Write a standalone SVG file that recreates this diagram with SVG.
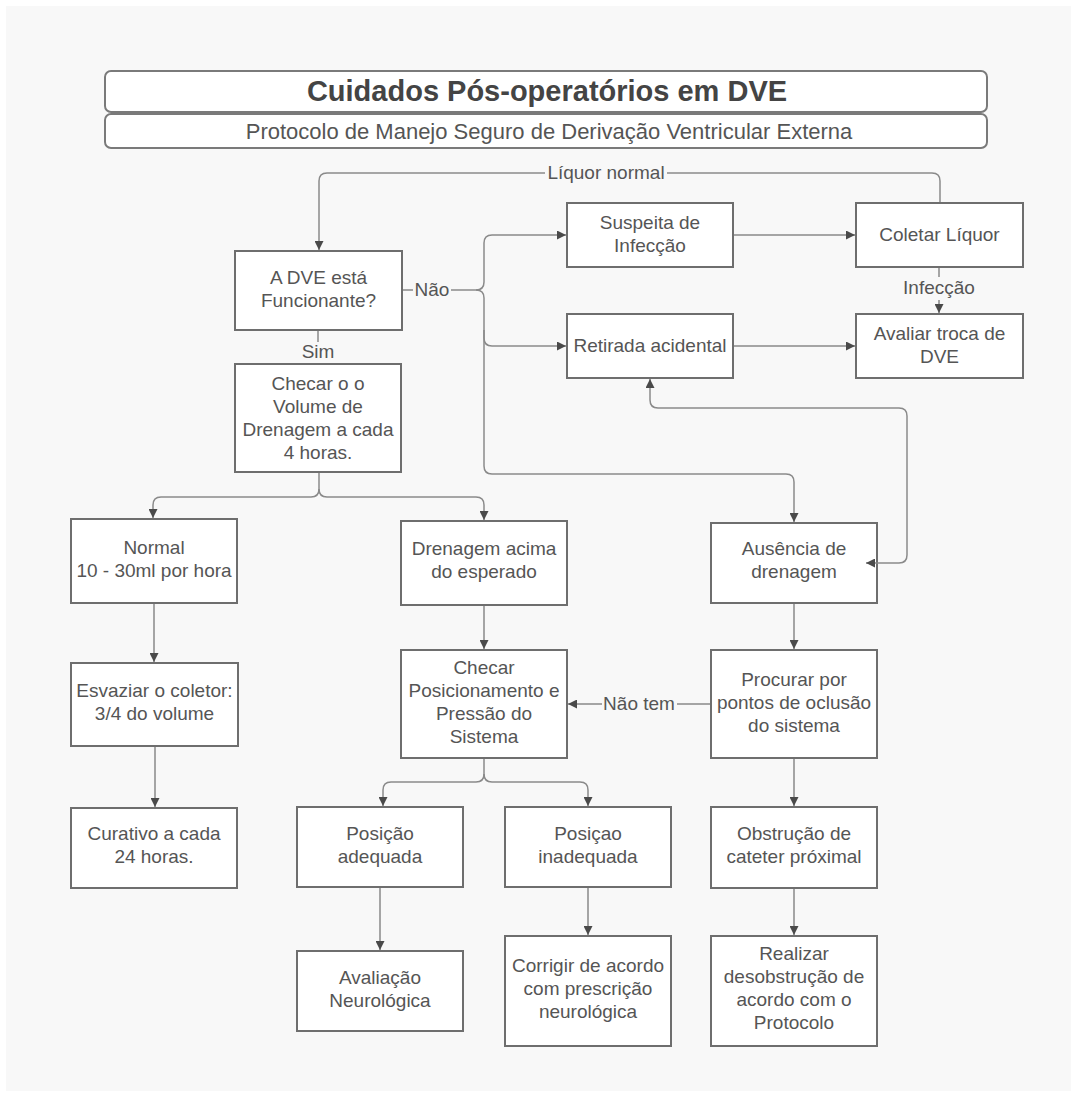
<svg xmlns="http://www.w3.org/2000/svg" width="1077" height="1097" viewBox="0 0 1077 1097">
<defs>
<style>
.bx{fill:#ffffff;stroke:#6e6e6e;stroke-width:2}
.hd{fill:#ffffff;stroke:#7a7a7a;stroke-width:2}
.t{font-family:"Liberation Sans",Arial,sans-serif;font-size:19px;fill:#555555;text-anchor:middle}
.ttl{font-family:"Liberation Sans",Arial,sans-serif;font-size:29px;font-weight:bold;fill:#444444;text-anchor:middle}
.sub{font-family:"Liberation Sans",Arial,sans-serif;font-size:22px;fill:#555555;text-anchor:middle}
.c{fill:none;stroke:#8a8a8a;stroke-width:1.5}
.a{marker-end:url(#ah)}
</style>
<marker id="ah" viewBox="0 0 10 10" refX="10" refY="5" markerWidth="9" markerHeight="9" markerUnits="userSpaceOnUse" orient="auto-start-reverse">
<path d="M0,0 L10,5 L0,10 z" fill="#4a4a4a"/>
</marker>
</defs>
<rect x="0" y="0" width="1077" height="1097" fill="#ffffff"/>
<rect x="6" y="6" width="1065" height="1085" fill="#f8f8f8"/>

<g id="header">
<rect class="hd" x="105" y="71" width="882" height="41" rx="6"/>
<text class="ttl" x="547" y="101">Cuidados Pós-operatórios em DVE</text>
<rect class="hd" x="105" y="114" width="882" height="34" rx="6"/>
<text class="sub" x="549" y="139">Protocolo de Manejo Seguro de Derivação Ventricular Externa</text>
</g>

<g id="n-funcionante">
<rect class="bx" x="235" y="251" width="167" height="79"/>
<text class="t" x="318.5" y="284">A DVE está<tspan x="318.5" dy="23">Funcionante?</tspan></text>
</g>
<g id="n-checar-volume">
<rect class="bx" x="235" y="364" width="166" height="108"/>
<text class="t" x="318" y="390">Checar o o<tspan x="318" dy="23">Volume de</tspan><tspan x="318" dy="23">Drenagem a cada</tspan><tspan x="318" dy="23">4 horas.</tspan></text>
</g>
<g id="n-suspeita">
<rect class="bx" x="567" y="203" width="166" height="64"/>
<text class="t" x="650" y="229">Suspeita de<tspan x="650" dy="23">Infecção</tspan></text>
</g>
<g id="n-coletar">
<rect class="bx" x="856" y="203" width="167" height="64"/>
<text class="t" x="939.5" y="241">Coletar Líquor</text>
</g>
<g id="n-retirada">
<rect class="bx" x="567" y="314" width="166" height="64"/>
<text class="t" x="650" y="352">Retirada acidental</text>
</g>
<g id="n-avaliar-troca">
<rect class="bx" x="856" y="314" width="167" height="64"/>
<text class="t" x="939.5" y="340">Avaliar troca de<tspan x="939.5" dy="23">DVE</tspan></text>
</g>
<g id="n-normal">
<rect class="bx" x="71" y="519" width="166" height="84"/>
<text class="t" x="154" y="554">Normal<tspan x="154" dy="23">10 - 30ml por hora</tspan></text>
</g>
<g id="n-drenagem-acima">
<rect class="bx" x="401" y="521" width="166" height="84"/>
<text class="t" x="484" y="555">Drenagem acima<tspan x="484" dy="23">do esperado</tspan></text>
</g>
<g id="n-ausencia">
<rect class="bx" x="711" y="523" width="166" height="80"/>
<text class="t" x="794" y="555">Ausência de<tspan x="794" dy="23">drenagem</tspan></text>
</g>
<g id="n-esvaziar">
<rect class="bx" x="71" y="663" width="167" height="83"/>
<text class="t" x="154.5" y="697">Esvaziar o coletor:<tspan x="154.5" dy="23">3/4 do volume</tspan></text>
</g>
<g id="n-checar-pos">
<rect class="bx" x="401" y="650" width="166" height="108"/>
<text class="t" x="484" y="674">Checar<tspan x="484" dy="23">Posicionamento e</tspan><tspan x="484" dy="23">Pressão do</tspan><tspan x="484" dy="23">Sistema</tspan></text>
</g>
<g id="n-procurar">
<rect class="bx" x="711" y="650" width="166" height="108"/>
<text class="t" x="794" y="686">Procurar por<tspan x="794" dy="23">pontos de oclusão</tspan><tspan x="794" dy="23">do sistema</tspan></text>
</g>
<g id="n-curativo">
<rect class="bx" x="71" y="808" width="166" height="80"/>
<text class="t" x="154" y="840">Curativo a cada<tspan x="154" dy="23">24 horas.</tspan></text>
</g>
<g id="n-pos-adequada">
<rect class="bx" x="297" y="807" width="166" height="80"/>
<text class="t" x="380" y="840">Posição<tspan x="380" dy="23">adequada</tspan></text>
</g>
<g id="n-pos-inadequada">
<rect class="bx" x="505" y="807" width="166" height="80"/>
<text class="t" x="588" y="840">Posiçao<tspan x="588" dy="23">inadequada</tspan></text>
</g>
<g id="n-obstrucao">
<rect class="bx" x="711" y="807" width="166" height="81"/>
<text class="t" x="794" y="840">Obstrução de<tspan x="794" dy="23">cateter próximal</tspan></text>
</g>
<g id="n-avaliacao">
<rect class="bx" x="297" y="951" width="166" height="80"/>
<text class="t" x="380" y="984">Avaliação<tspan x="380" dy="23">Neurológica</tspan></text>
</g>
<g id="n-corrigir">
<rect class="bx" x="505" y="936" width="166" height="110"/>
<text class="t" x="588" y="972">Corrigir de acordo<tspan x="588" dy="23">com prescrição</tspan><tspan x="588" dy="23">neurológica</tspan></text>
</g>
<g id="n-realizar">
<rect class="bx" x="711" y="936" width="166" height="110"/>
<text class="t" x="794" y="960">Realizar<tspan x="794" dy="23">desobstrução de</tspan><tspan x="794" dy="23">acordo com o</tspan><tspan x="794" dy="23">Protocolo</tspan></text>
</g>

<g id="connectors">
<path class="c" d="M940,202 V181 Q940,173 932,173 H667"/>
<path class="c a" d="M545,173 H327 Q319,173 319,181 V250"/>
<text class="t" x="606" y="179">Líquor normal</text>

<path class="c" d="M403,290 H413"/>
<text class="t" x="432" y="296">Não</text>
<path class="c" d="M451,290 H476 Q484,290 484,282 V243 Q484,235 492,235"/>
<path class="c a" d="M492,235 H566"/>
<path class="c a" d="M476,290 Q484,290 484,298 V338 Q484,346 492,346 H566"/>
<path class="c a" d="M484,330 V466 Q484,474 492,474 H786 Q794,474 794,482 V522"/>

<path class="c" d="M318,331 V342"/>
<text class="t" x="318" y="358">Sim</text>

<path class="c a" d="M734,235 H855"/>
<path class="c" d="M939,268 V277"/>
<text class="t" x="939" y="294">Infecção</text>
<path class="c a" d="M939,300 V313"/>
<path class="c a" d="M734,346 H855"/>

<path class="c a" d="M878,563 H899 Q907,563 907,555 V416 Q907,408 899,408 H658 Q650,408 650,400 V379"/>
<path class="c a" d="M878,563 H866"/>

<path class="c a" d="M319,473 V489 Q319,497 311,497 H161 Q153,497 153,505 V518"/>
<path class="c a" d="M319,489 Q319,497 327,497 H476 Q484,497 484,505 V520"/>

<path class="c a" d="M154,604 V662"/>
<path class="c a" d="M155,747 V807"/>
<path class="c a" d="M484,606 V649"/>
<path class="c a" d="M794,604 V649"/>

<path class="c" d="M710,704 H677"/>
<text class="t" x="639" y="710">Não tem</text>
<path class="c a" d="M602,704 H568"/>

<path class="c a" d="M484,759 V774 Q484,782 476,782 H391 Q383,782 383,790 V806"/>
<path class="c a" d="M484,774 Q484,782 492,782 H580 Q588,782 588,790 V806"/>

<path class="c a" d="M380,888 V950"/>
<path class="c a" d="M588,888 V935"/>
<path class="c a" d="M794,759 V806"/>
<path class="c a" d="M794,889 V935"/>
</g>
</svg>
